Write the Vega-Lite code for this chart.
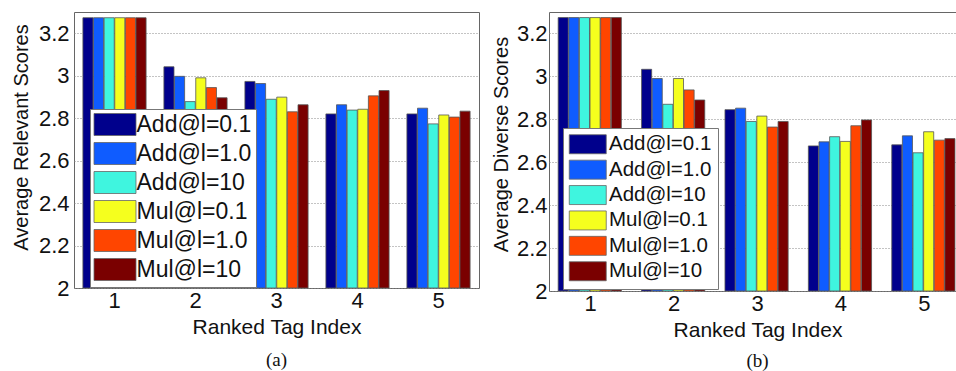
{
  "$schema": "https://vega.github.io/schema/vega-lite/v6.json",
  "padding": {"left": 10, "top": 11, "right": 0, "bottom": 0},
  "background": "white",
  "spacing": 10,
  "config": {
    "font": "Liberation Sans",
    "view": {"stroke": "#666", "strokeWidth": 1},
    "axis": {"labelColor": "#111", "titleColor": "#111", "titleFontWeight": "normal", "labelFont": "Liberation Sans", "titleFont": "Liberation Sans", "tickSize": 0}
  },
  "datasets": {
    "a": [
      {"index": "1", "method": "Add@l=0.1", "score": 3.273},
      {"index": "1", "method": "Add@l=1.0", "score": 3.273},
      {"index": "1", "method": "Add@l=10", "score": 3.273},
      {"index": "1", "method": "Mul@l=0.1", "score": 3.273},
      {"index": "1", "method": "Mul@l=1.0", "score": 3.273},
      {"index": "1", "method": "Mul@l=10", "score": 3.273},
      {"index": "2", "method": "Add@l=0.1", "score": 3.042},
      {"index": "2", "method": "Add@l=1.0", "score": 2.997},
      {"index": "2", "method": "Add@l=10", "score": 2.878},
      {"index": "2", "method": "Mul@l=0.1", "score": 2.990},
      {"index": "2", "method": "Mul@l=1.0", "score": 2.944},
      {"index": "2", "method": "Mul@l=10", "score": 2.896},
      {"index": "3", "method": "Add@l=0.1", "score": 2.973},
      {"index": "3", "method": "Add@l=1.0", "score": 2.963},
      {"index": "3", "method": "Add@l=10", "score": 2.889},
      {"index": "3", "method": "Mul@l=0.1", "score": 2.899},
      {"index": "3", "method": "Mul@l=1.0", "score": 2.830},
      {"index": "3", "method": "Mul@l=10", "score": 2.863},
      {"index": "4", "method": "Add@l=0.1", "score": 2.820},
      {"index": "4", "method": "Add@l=1.0", "score": 2.863},
      {"index": "4", "method": "Add@l=10", "score": 2.838},
      {"index": "4", "method": "Mul@l=0.1", "score": 2.842},
      {"index": "4", "method": "Mul@l=1.0", "score": 2.905},
      {"index": "4", "method": "Mul@l=10", "score": 2.930},
      {"index": "5", "method": "Add@l=0.1", "score": 2.820},
      {"index": "5", "method": "Add@l=1.0", "score": 2.847},
      {"index": "5", "method": "Add@l=10", "score": 2.773},
      {"index": "5", "method": "Mul@l=0.1", "score": 2.815},
      {"index": "5", "method": "Mul@l=1.0", "score": 2.805},
      {"index": "5", "method": "Mul@l=10", "score": 2.833}
    ],
    "b": [
      {"index": "1", "method": "Add@l=0.1", "score": 3.274},
      {"index": "1", "method": "Add@l=1.0", "score": 3.274},
      {"index": "1", "method": "Add@l=10", "score": 3.274},
      {"index": "1", "method": "Mul@l=0.1", "score": 3.274},
      {"index": "1", "method": "Mul@l=1.0", "score": 3.274},
      {"index": "1", "method": "Mul@l=10", "score": 3.274},
      {"index": "2", "method": "Add@l=0.1", "score": 3.033},
      {"index": "2", "method": "Add@l=1.0", "score": 2.990},
      {"index": "2", "method": "Add@l=10", "score": 2.870},
      {"index": "2", "method": "Mul@l=0.1", "score": 2.990},
      {"index": "2", "method": "Mul@l=1.0", "score": 2.937},
      {"index": "2", "method": "Mul@l=10", "score": 2.890},
      {"index": "3", "method": "Add@l=0.1", "score": 2.845},
      {"index": "3", "method": "Add@l=1.0", "score": 2.852},
      {"index": "3", "method": "Add@l=10", "score": 2.790},
      {"index": "3", "method": "Mul@l=0.1", "score": 2.815},
      {"index": "3", "method": "Mul@l=1.0", "score": 2.764},
      {"index": "3", "method": "Mul@l=10", "score": 2.790},
      {"index": "4", "method": "Add@l=0.1", "score": 2.676},
      {"index": "4", "method": "Add@l=1.0", "score": 2.695},
      {"index": "4", "method": "Add@l=10", "score": 2.719},
      {"index": "4", "method": "Mul@l=0.1", "score": 2.697},
      {"index": "4", "method": "Mul@l=1.0", "score": 2.770},
      {"index": "4", "method": "Mul@l=10", "score": 2.797},
      {"index": "5", "method": "Add@l=0.1", "score": 2.681},
      {"index": "5", "method": "Add@l=1.0", "score": 2.723},
      {"index": "5", "method": "Add@l=10", "score": 2.644},
      {"index": "5", "method": "Mul@l=0.1", "score": 2.742},
      {"index": "5", "method": "Mul@l=1.0", "score": 2.703},
      {"index": "5", "method": "Mul@l=10", "score": 2.710}
    ]
  },
  "resolve": {"legend": {"color": "independent"}, "scale": {"y": "independent", "x": "independent"}},
  "hconcat": [
    {
      "width": 405,
      "height": 276,
      "data": {"name": "a"},
      "title": {"text": "(a)", "orient": "bottom", "font": "Liberation Serif", "fontSize": 19, "fontWeight": "normal", "color": "#111", "offset": 14, "anchor": "middle"},
      "mark": {"type": "bar", "stroke": "#555", "strokeWidth": 0.8, "clip": true},
      "encoding": {
        "x": {"field": "index", "type": "ordinal", "scale": {"paddingInner": 0.22, "paddingOuter": 0.11},
          "axis": {"title": "Ranked Tag Index", "labelAngle": 0, "labelFontSize": 22, "titleFontSize": 21, "labelPadding": 2, "titlePadding": 5, "domain": false, "ticks": false, "grid": false}},
        "xOffset": {"field": "method", "type": "nominal", "sort": ["Add@l=0.1", "Add@l=1.0", "Add@l=10", "Mul@l=0.1", "Mul@l=1.0", "Mul@l=10"], "scale": {"paddingInner": 0.05, "paddingOuter": 0}},
        "y": {"field": "score", "type": "quantitative", "scale": {"domain": [2, 3.3], "zero": false, "nice": false},
          "axis": {"title": "Average Relevant Scores", "values": [2, 2.2, 2.4, 2.6, 2.8, 3, 3.2], "format": "~g", "labelFontSize": 22, "titleFontSize": 20, "labelPadding": 5, "titlePadding": 7, "titleY": 125, "domain": false, "ticks": false, "grid": true, "gridDash": [1, 2], "gridColor": "#888", "gridWidth": 1}},
        "y2": {"datum": 2},
        "color": {"field": "method", "type": "nominal", "sort": ["Add@l=0.1", "Add@l=1.0", "Add@l=10", "Mul@l=0.1", "Mul@l=1.0", "Mul@l=10"],
          "scale": {"domain": ["Add@l=0.1", "Add@l=1.0", "Add@l=10", "Mul@l=0.1", "Mul@l=1.0", "Mul@l=10"], "range": ["#00008c", "#0f5cff", "#3ff5df", "#f5ff1e", "#ff4500", "#7a0000"]},
          "legend": {"title": null, "orient": "none", "legendX": 16, "legendY": 97, "fillColor": "white", "strokeColor": "#777", "padding": 4,
            "symbolType": "M-1.909,-1L1.909,-1L1.909,1L-1.909,1Z", "symbolSize": 484, "symbolStrokeColor": "#666", "symbolStrokeWidth": 0.8, "symbolOpacity": 1, "symbolOffset": 9.5,
            "labelFontSize": 23, "labelFont": "Liberation Sans", "labelColor": "#111", "labelOffset": 10, "rowPadding": 2}}
      }
    },
    {
      "width": 407,
      "height": 279,
      "data": {"name": "b"},
      "title": {"text": "(b)", "orient": "bottom", "font": "Liberation Serif", "fontSize": 19, "fontWeight": "normal", "color": "#111", "offset": 12, "anchor": "middle", "dx": 5},
      "mark": {"type": "bar", "stroke": "#555", "strokeWidth": 0.8, "clip": true},
      "encoding": {
        "x": {"field": "index", "type": "ordinal", "scale": {"paddingInner": 0.22, "paddingOuter": 0.11, "range": [0, 417]},
          "axis": {"title": "Ranked Tag Index", "labelAngle": 0, "labelFontSize": 22, "titleFontSize": 21, "labelPadding": 2, "titlePadding": 5, "domain": false, "ticks": false, "grid": false}},
        "xOffset": {"field": "method", "type": "nominal", "sort": ["Add@l=0.1", "Add@l=1.0", "Add@l=10", "Mul@l=0.1", "Mul@l=1.0", "Mul@l=10"], "scale": {"paddingInner": 0.05, "paddingOuter": 0}},
        "y": {"field": "score", "type": "quantitative", "scale": {"domain": [2, 3.3], "zero": false, "nice": false},
          "axis": {"title": "Average Diverse Scores", "values": [2, 2.2, 2.4, 2.6, 2.8, 3, 3.2], "format": "~g", "labelFontSize": 22, "titleFontSize": 20, "labelPadding": 2, "titlePadding": 5, "titleY": 132, "domain": false, "ticks": false, "grid": true, "gridDash": [1, 2], "gridColor": "#888", "gridWidth": 1}},
        "y2": {"datum": 2},
        "color": {"field": "method", "type": "nominal", "sort": ["Add@l=0.1", "Add@l=1.0", "Add@l=10", "Mul@l=0.1", "Mul@l=1.0", "Mul@l=10"],
          "scale": {"domain": ["Add@l=0.1", "Add@l=1.0", "Add@l=10", "Mul@l=0.1", "Mul@l=1.0", "Mul@l=10"], "range": ["#00008c", "#0f5cff", "#3ff5df", "#f5ff1e", "#ff4500", "#7a0000"]},
          "legend": {"title": null, "orient": "none", "legendX": 14, "legendY": 116, "fillColor": "white", "strokeColor": "#777", "padding": 6,
            "symbolType": "M-1.947,-1L1.947,-1L1.947,1L-1.947,1Z", "symbolSize": 361, "symbolStrokeColor": "#666", "symbolStrokeWidth": 0.8, "symbolOpacity": 1, "symbolOffset": 8.5,
            "labelFontSize": 20.5, "labelFont": "Liberation Sans", "labelColor": "#111", "labelOffset": 11, "rowPadding": 2.4}}
      }
    }
  ]
}
